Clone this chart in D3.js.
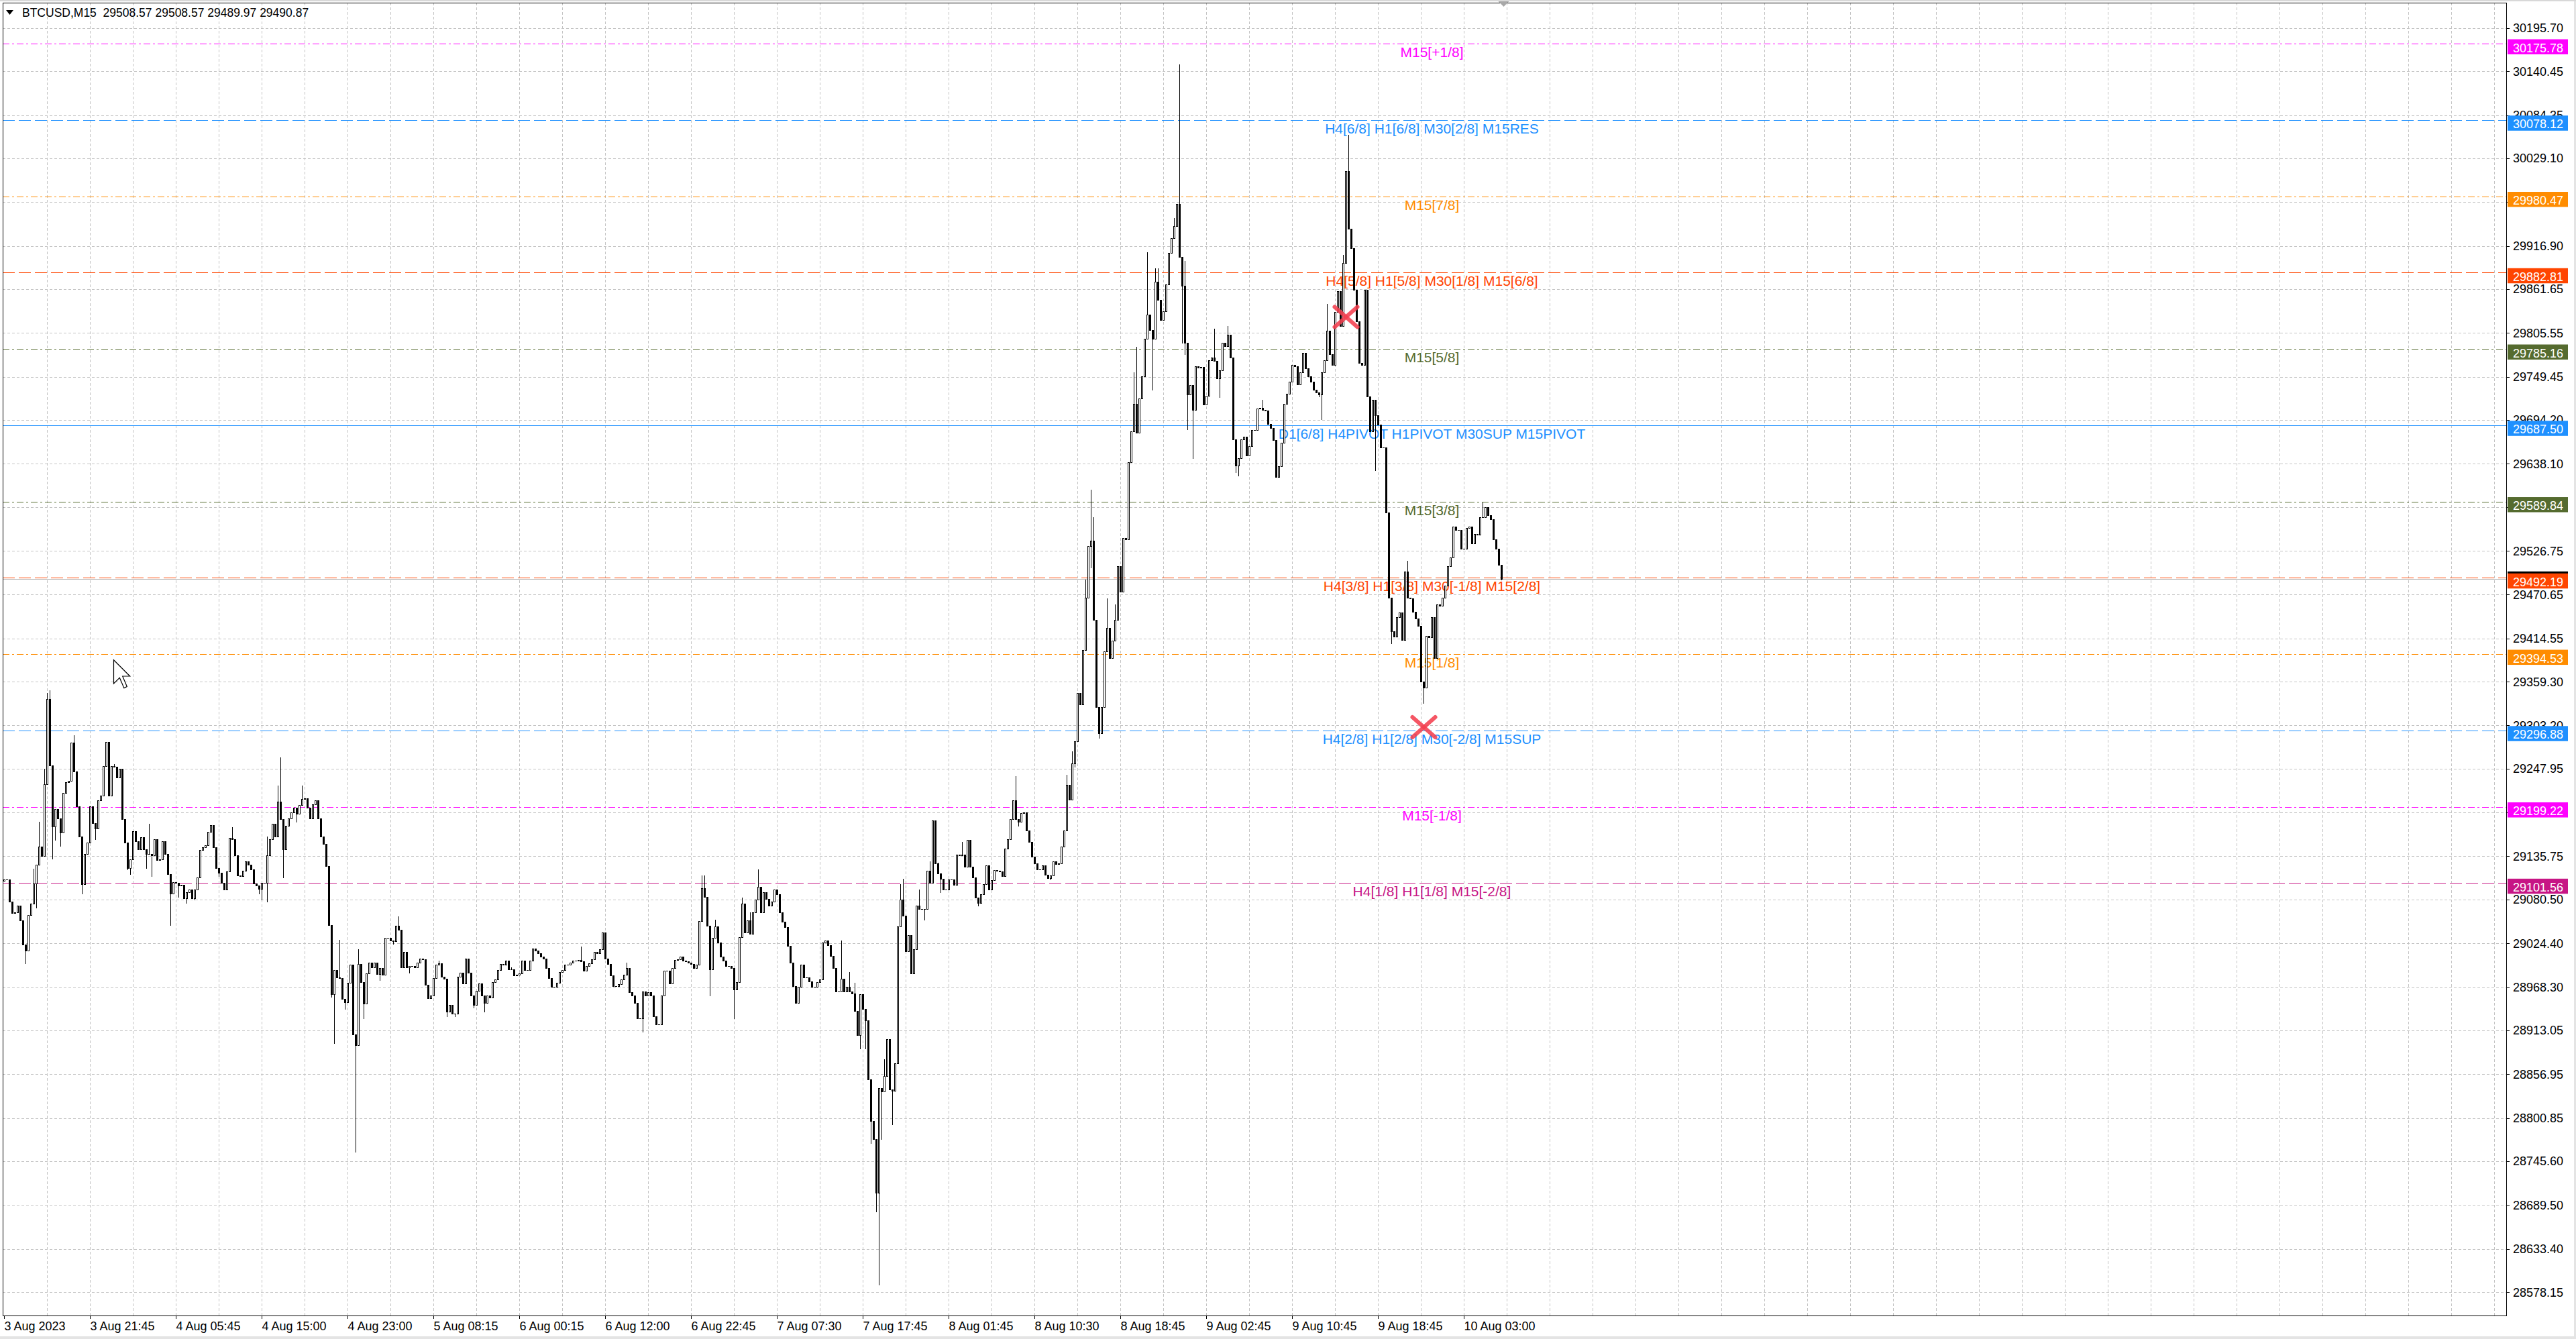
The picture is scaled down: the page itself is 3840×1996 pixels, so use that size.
<!DOCTYPE html>
<html><head><meta charset="utf-8">
<script src="https://cdn.jsdelivr.net/npm/d3@7"></script>
<style>html,body{margin:0;padding:0;background:#fff;overflow:hidden}svg{display:block}text{font-family:"Liberation Sans",Arial,sans-serif}</style>
</head><body><svg id="c" width="3840" height="1996"></svg>
<script>
// ---------------- DATA ----------------
const symbolTitle = "BTCUSD,M15  29508.57 29508.57 29489.97 29490.87";
const firstOpen = 29104;
const closes = [
29106,29106,29078,29063,29064,29073,29054,29023,29015,29061,
29075,29101,29125,29148,29136,29228,29337,29252,29174,29196,
29184,29166,29217,29231,29232,29281,29244,29200,29161,29100,
29139,29153,29200,29178,29171,29207,29213,29251,29282,29213,
29251,29250,29237,29248,29183,29153,29121,29132,29168,29155,
29145,29160,29145,29139,29139,29137,29158,29131,29132,29155,
29139,29113,29088,29103,29102,29098,29099,29082,29090,29093,
29082,29093,29109,29144,29147,29150,29167,29176,29147,29121,
29115,29102,29093,29116,29159,29158,29137,29111,29110,29117,
29129,29125,29119,29101,29098,29094,29102,29102,29137,29158,
29177,29161,29206,29183,29145,29175,29184,29192,29198,29190,
29201,29209,29210,29198,29184,29202,29207,29184,29161,29152,
29123,29048,28959,28990,28981,28980,28953,28949,28974,28997,
28908,28894,28998,28975,28947,28986,29000,28994,29000,28985,
28993,28984,29031,29031,29028,29027,29047,29042,28994,29013,
28994,28995,28995,28994,29000,29005,29004,28971,28954,28958,
28980,28997,28999,28982,28979,28937,28946,28934,28934,28982,
28987,28973,29005,28987,28958,28946,28964,28973,28958,28948,
28958,28955,28975,28978,28990,28998,28997,29002,28991,28991,
28983,28984,28986,29002,28990,28990,29002,29018,29015,29012,
29007,29005,28993,28980,28969,28969,28974,28988,28990,28997,
28997,29000,29002,29002,29003,29001,28989,28995,28999,29004,
29013,29012,29017,29038,29005,28998,28983,28970,28970,28972,
28978,28984,28993,28962,28958,28948,28928,28928,28963,28958,
28962,28958,28931,28921,28921,28958,28989,28989,28973,28993,
29003,29004,29007,29002,29001,29000,28998,28993,28997,29053,
29095,29084,29047,28991,29031,29046,29025,29007,29002,28995,
28995,28993,28965,28975,29032,29075,29038,29054,29037,29064,
29080,29097,29064,29090,29081,29073,29078,29093,29087,29064,
29052,29045,29021,29000,28970,28948,28969,28997,28981,28981,
28976,28969,28969,28975,28978,29025,29028,29022,29008,28993,
28963,28963,28979,28963,28969,28963,28960,28938,28907,28959,
28940,28926,28850,28797,28774,28705,28839,28835,28855,28902,
28837,28836,28871,29046,29080,29060,29014,29035,28986,29017,
29073,29068,29068,29068,29117,29102,29182,29127,29114,29107,
29093,29093,29106,29106,29099,29138,29137,29138,29122,29157,
29122,29109,29083,29076,29087,29100,29124,29093,29105,29118,
29117,29116,29110,29146,29158,29183,29207,29183,29180,29191,
29192,29169,29154,29135,29127,29119,29119,29124,29112,29108,
29111,29129,29126,29127,29148,29169,29227,29208,29255,29283,
29345,29330,29400,29467,29533,29540,29438,29327,29293,29327,
29398,29428,29389,29412,29438,29507,29474,29543,29541,29640,
29680,29715,29678,29722,29750,29798,29829,29809,29798,29871,
29848,29822,29833,29868,29908,29927,29942,29971,29903,29866,
29793,29727,29739,29707,29763,29761,29762,29714,29725,29771,
29774,29770,29747,29758,29793,29789,29803,29774,29669,29636,
29645,29669,29673,29649,29661,29681,29681,29709,29710,29707,
29706,29689,29684,29668,29621,29635,29665,29715,29728,29743,
29765,29763,29740,29755,29780,29760,29750,29743,29733,29729,
29727,29755,29771,29808,29778,29765,29832,29859,29814,29895,
30013,29939,29914,29861,29820,29767,29765,29861,29724,29680,
29720,29700,29688,29659,29659,29576,29467,29424,29417,29442,
29448,29413,29500,29467,29466,29449,29440,29431,29359,29352,
29418,29416,29442,29389,29458,29456,29467,29482,29507,29518,
29558,29553,29553,29529,29529,29556,29558,29536,29548,29547,
29570,29570,29583,29572,29567,29541,29529,29508.57,29490.87
];
const highWicks = [[11,29120],[13,29180],[15,29248],[16,29345],[17,29348],[26,29291],[41,29254],[54,29177],[85,29173],[98,29161],[102,29226],[103,29262],[111,29226],[125,29029],[132,29017],[147,29059],[162,29002],[189,28994],[215,29020],[232,29000],[260,29111],[261,29111],[265,29055],[275,29083],[278,29064],[281,29119],[312,29028],[315,28988],[317,28974],[328,28876],[334,29100],[335,29107],[341,29093],[345,29129],[348,29128],[357,29154],[377,29238],[396,29240],[398,29270],[403,29490],[405,29605],[406,29570],[411,29466],[414,29458],[421,29755],[422,29788],[426,29909],[429,29888],[430,29888],[436,29953],[438,30149],[440,29898],[451,29811],[456,29814],[469,29720],[493,29843],[499,29905],[501,30059],[523,29514],[551,29589],[558,29508.57]];
const lowWicks = [[8,28999],[12,29070],[18,29133],[19,29157],[21,29149],[29,29088],[34,29158],[46,29119],[47,29113],[53,29121],[55,29110],[62,29048],[65,29084],[68,29076],[71,29080],[80,29110],[95,29088],[96,29080],[98,29078],[104,29109],[109,29180],[122,28956],[123,28897],[127,28940],[131,28758],[134,28928],[140,28977],[145,29024],[151,28987],[165,28931],[168,28931],[175,28942],[179,28937],[238,28911],[263,28958],[272,28928],[319,28890],[321,28890],[323,28769],[325,28681],[326,28588],[327,28774],[331,28793],[343,29055],[349,29090],[363,29073],[378,29175],[390,29106],[399,29250],[405,29505],[408,29287],[428,29733],[439,29793],[440,29778],[441,29682],[443,29645],[453,29723],[459,29627],[460,29623],[490,29724],[491,29695],[511,29630],[517,29408],[529,29332],[558,29489.97]];

const timeLabels = ["3 Aug 2023","3 Aug 21:45","4 Aug 05:45","4 Aug 15:00","4 Aug 23:00","5 Aug 08:15","6 Aug 00:15","6 Aug 12:00","6 Aug 22:45","7 Aug 07:30","7 Aug 17:45","8 Aug 01:45","8 Aug 10:30","8 Aug 18:45","9 Aug 02:45","9 Aug 10:45","9 Aug 18:45","10 Aug 03:00"];
const barsPerLabel = 32;
const priceTicks = [30195.70,30140.45,30084.35,30029.10,29973.00,29916.90,29861.65,29805.55,29749.45,29694.20,29638.10,29582.85,29526.75,29470.65,29414.55,29359.30,29303.20,29247.95,29191.85,29135.75,29080.50,29024.40,28968.30,28913.05,28856.95,28800.85,28745.60,28689.50,28633.40,28578.15];

const levelPrices = [30175.78,30078.12,29980.47,29882.81,29785.16,29687.50,29589.84,29492.19,29394.53,29296.88,29199.22,29101.56];
const levelNames = ["M15[+1/8]","H4[6/8] H1[6/8] M30[2/8] M15RES","M15[7/8]","H4[5/8] H1[5/8] M30[1/8] M15[6/8]","M15[5/8]","D1[6/8] H4PIVOT H1PIVOT M30SUP M15PIVOT","M15[3/8]","H4[3/8] H1[3/8] M30[-1/8] M15[2/8]","M15[1/8]","H4[2/8] H1[2/8] M30[-2/8] M15SUP","M15[-1/8]","H4[1/8] H1[1/8] M15[-2/8]"];
const levelColors = ["#ff00ff","#1e90ff","#ff8c00","#ff4500","#556b2f","#1e90ff","#556b2f","#ff4500","#ff8c00","#1e90ff","#ff00ff","#c71585"];
const levelStyles = ["dashdot","dash","dashdot","dash","dashdot","solid","dashdot","dash","dashdot","dash","dashdot","dash"];
const levelLabelBar = 532;

const bidPrice = 29490.87;
const markers = [[500,29826],[529,29301]];
const cursorAt = [40.75, 29387];

// ---------------- LAYOUT ----------------
const W=3840,H=1996;
const plot={left:4,top:4,right:3736,bottom:1961};
const svg=d3.select('#c');
svg.append('rect').attr('width',W).attr('height',H).attr('fill','#fff');
svg.append('rect').attr('x',0).attr('y',1992).attr('width',W).attr('height',4).attr('fill','#e4e4e4');
svg.append('rect').attr('x',3837).attr('y',0).attr('width',3).attr('height',H).attr('fill','#e4e4e4');
svg.append('rect').attr('x',0).attr('y',0).attr('width',W).attr('height',2).attr('fill','#d8d8d8');

const x = d3.scaleLinear().domain([0,100]).range([6.5,406.5]);
const y = d3.scaleLinear().domain([28578.15,30195.70]).range([1926,41.8]);
const py = v => Math.round(y(v))+0.5;

const N = closes.length;
const hiMap = new Map(highWicks), loMap = new Map(lowWicks);
const bars = closes.map((c,i)=>{
  const o = i===0?firstOpen:closes[i-1];
  const h = Math.max(o,c,hiMap.has(i)?hiMap.get(i):-Infinity);
  const l = Math.min(o,c,loMap.has(i)?loMap.get(i):Infinity);
  return {i,o,h,l,c};
});

// grid
const grid = svg.append('g').attr('stroke','#c3c3c3').attr('stroke-width',1).attr('stroke-dasharray','4,3');
priceTicks.forEach(t=>{
  grid.append('line').attr('x1',plot.left).attr('x2',plot.right).attr('y1',py(t)).attr('y2',py(t));
});
for(let i=16;x(i)<plot.right-2;i+=16){
  const gx=Math.floor(x(i))+0.5;
  grid.append('line').attr('x1',gx).attr('x2',gx).attr('y1',plot.top).attr('y2',plot.bottom);
}

// header
svg.append('path').attr('d','M9,15 L20,15 L14.5,22 Z').attr('fill','#000');
svg.append('text').attr('x',33).attr('y',25).attr('font-size',17.5).attr('fill','#000')
  .attr('xml:space','preserve').style('white-space','pre').text(symbolTitle);

// level lines
const dashes={dash:'18,6',dashdot:'10,4,3,4',solid:null};
const lv = svg.append('g');
levelPrices.forEach((p,k)=>{
  lv.append('line').attr('x1',plot.left).attr('x2',plot.right).attr('y1',py(p)).attr('y2',py(p))
    .attr('stroke',levelColors[k]).attr('stroke-width',1).attr('stroke-dasharray',dashes[levelStyles[k]]);
});
// bid line
lv.append('line').attr('x1',plot.left).attr('x2',plot.right).attr('y1',py(bidPrice)).attr('y2',py(bidPrice))
  .attr('stroke','#b4b4b4').attr('stroke-width',1);
// level texts
levelPrices.forEach((p,k)=>{
  lv.append('text').attr('x',x(levelLabelBar)).attr('y',y(p)+20).attr('text-anchor','middle')
    .attr('font-size',21).attr('fill',levelColors[k]).text(levelNames[k]);
});

// candles
const cg = svg.append('g');
bars.forEach(b=>{
  const cx = Math.floor(x(b.i))+0.5;
  const yt = Math.round(y(Math.max(b.o,b.c))), yb = Math.round(y(Math.min(b.o,b.c)));
  cg.append('line').attr('x1',cx).attr('x2',cx).attr('y1',Math.round(y(b.h))).attr('y2',Math.round(y(b.l))+1)
    .attr('stroke','#000').attr('stroke-width',1);
  const left = cx-1.5;
  if(b.c>=b.o){
    if(yb-yt<1){
      cg.append('rect').attr('x',left).attr('y',yt).attr('width',3).attr('height',1).attr('fill','#000');
    } else {
      cg.append('rect').attr('x',left+0.5).attr('y',yt+0.5).attr('width',2).attr('height',yb-yt)
        .attr('fill','#fff').attr('stroke','#000').attr('stroke-width',1);
    }
  } else {
    cg.append('rect').attr('x',left).attr('y',yt).attr('width',3).attr('height',Math.max(1,yb-yt+1)).attr('fill','#000');
  }
});

// markers
const mg = svg.append('g').attr('stroke','#f43f4e').attr('stroke-width',6).attr('stroke-opacity',0.88).attr('stroke-linecap','round');
markers.forEach(([bi,p])=>{
  const mx=x(bi), my=y(p);
  mg.append('line').attr('x1',mx-17).attr('y1',my-15).attr('x2',mx+17).attr('y2',my+15);
  mg.append('line').attr('x1',mx-17).attr('y1',my+15).attr('x2',mx+17).attr('y2',my-15);
});

// frame
svg.append('rect').attr('x',plot.left+0.5).attr('y',plot.top+0.5).attr('width',plot.right-plot.left).attr('height',plot.bottom-plot.top)
  .attr('fill','none').attr('stroke','#000').attr('stroke-width',1);

// shift marker
const sx = x(N-0.25);
svg.append('path').attr('d',`M${sx-8},2 L${sx+8},2 L${sx},10 Z`).attr('fill','#a8a8a8');

// right axis
const ra = svg.append('g');
priceTicks.forEach(t=>{
  ra.append('line').attr('x1',plot.right).attr('x2',plot.right+5).attr('y1',py(t)).attr('y2',py(t)).attr('stroke','#000');
  ra.append('text').attr('x',3746).attr('y',y(t)+6.5).attr('font-size',18).attr('fill','#000').text(t.toFixed(2));
});
// bid box (black) under level boxes
ra.append('rect').attr('x',3738).attr('y',y(bidPrice)-11).attr('width',90).attr('height',22).attr('fill','#000');
ra.append('text').attr('x',3746).attr('y',y(bidPrice)+6.5).attr('font-size',18).attr('fill','#fff').text(bidPrice.toFixed(2));
levelPrices.forEach((p,k)=>{
  ra.append('rect').attr('x',3738).attr('y',y(p)-6.5).attr('width',90).attr('height',22.5).attr('fill',levelColors[k]);
  ra.append('text').attr('x',3746).attr('y',y(p)+12.5).attr('font-size',18).attr('fill','#fff').text(p.toFixed(2));
});

// bottom axis
const ba = svg.append('g');
timeLabels.forEach((t,k)=>{
  const tx = Math.floor(x(k*barsPerLabel))+0.5;
  ba.append('line').attr('x1',tx).attr('x2',tx).attr('y1',plot.bottom).attr('y2',plot.bottom+5).attr('stroke','#000');
  ba.append('text').attr('x',tx).attr('y',1983).attr('font-size',18).attr('fill','#000').text(t);
});

// mouse cursor
const cp=[[0,0],[0,16],[4,12],[7,19],[9,18],[6,11],[11,11]];
const cx0=x(cursorAt[0]), cy0=y(cursorAt[1]);
svg.append('path').attr('d','M'+cp.map(p=>[cx0+p[0]*2.2,cy0+p[1]*2.2].join(',')).join(' L')+' Z')
  .attr('fill','#fff').attr('stroke','#000').attr('stroke-width',1.2);
</script></body></html>
